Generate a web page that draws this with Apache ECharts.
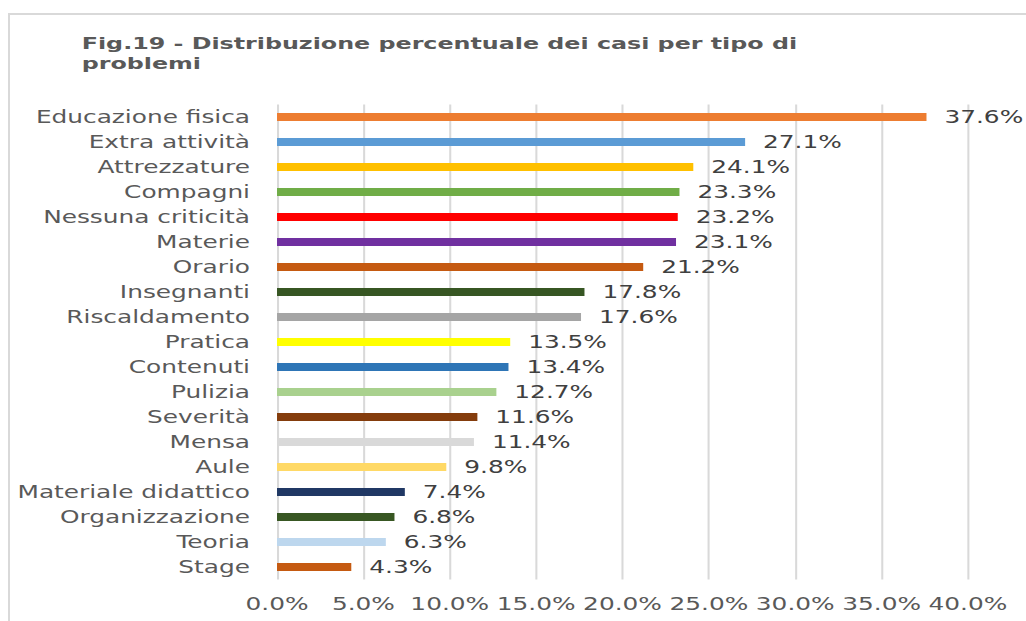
<!DOCTYPE html>
<html>
<head>
<meta charset="utf-8">
<script src="https://cdn.jsdelivr.net/npm/echarts@6/dist/echarts.min.js"></script>
<style>
    html, body { margin: 0; padding: 0; background: #fff; overflow: hidden; }
    #frame {
        position: absolute; left: 8px; top: 13px; width: 1100px; height: 700px;
        border: 2px solid #d9d9d9; box-sizing: border-box;
    }
    /* the reference text is wide, so the chart is drawn narrow and stretched */
    #chart {
        position: absolute; left: 0; top: 0; width: 703px; height: 621px;
        transform: scaleX(1.4595); transform-origin: 0 0;
    }
</style>
</head>
<body>
<div id="frame"></div>
<div id="chart"></div>
<script>
    'use strict';

    var categories = ['Educazione fisica', 'Extra attività', 'Attrezzature', 'Compagni',
        'Nessuna criticità', 'Materie', 'Orario', 'Insegnanti', 'Riscaldamento', 'Pratica',
        'Contenuti', 'Pulizia', 'Severità', 'Mensa', 'Aule', 'Materiale didattico',
        'Organizzazione', 'Teoria', 'Stage'];
    var values = [37.6, 27.1, 24.1, 23.3, 23.2, 23.1, 21.2, 17.8, 17.6, 13.5,
        13.4, 12.7, 11.6, 11.4, 9.8, 7.4, 6.8, 6.3, 4.3];
    var barColors = ['#ed7d31', '#5b9bd5', '#ffc000', '#70ad47', '#ff0000', '#7030a0',
        '#c55a11', '#375623', '#a5a5a5', '#ffff00', '#2e75b6', '#a9d18e', '#843c0c',
        '#d9d9d9', '#ffd966', '#203864', '#385723', '#bdd7ee', '#c55a11'];
    var xTicks = { min: 0, max: 40, interval: 5 };

    var font = 'DejaVu Sans, Verdana, sans-serif';

    function pct(v) {
        return Number(v).toFixed(1) + '%';
    }

    var chart = echarts.init(document.getElementById('chart'), null, { renderer: 'svg' });
    chart.setOption({
        animation: false,
        title: {
            text: 'Fig.19 - Distribuzione percentuale dei casi per tipo di\nproblemi',
            left: 51,
            top: 28,
            textStyle: {
                fontFamily: font, fontSize: 16.3, fontWeight: 'bold',
                color: '#595959', lineHeight: 20
            }
        },
        grid: { left: 189.8, right: 39.8, top: 104.5, bottom: 41.5 },
        xAxis: {
            type: 'value',
            min: xTicks.min,
            max: xTicks.max,
            interval: xTicks.interval,
            axisLine: { show: false },
            axisTick: { show: false },
            splitLine: { lineStyle: { color: '#d9d9d9', width: 1.4 } },
            axisLabel: {
                formatter: pct, margin: 16,
                fontFamily: font, fontSize: 17, color: '#595959'
            }
        },
        yAxis: {
            type: 'category',
            inverse: true,
            data: categories,
            axisLine: { show: false },
            axisTick: { show: false },
            axisLabel: {
                margin: 18.5,
                fontFamily: font, fontSize: 17, color: '#595959'
            }
        },
        series: [{
            type: 'bar',
            barWidth: 8,
            data: values.map(function (v, i) {
                return { value: v, itemStyle: { color: barColors[i] } };
            }),
            label: {
                show: true,
                position: 'right',
                distance: 12.3,
                formatter: function (p) { return pct(p.value); },
                fontFamily: font, fontSize: 17, color: '#404040'
            }
        }]
    });
</script>
</body>
</html>
